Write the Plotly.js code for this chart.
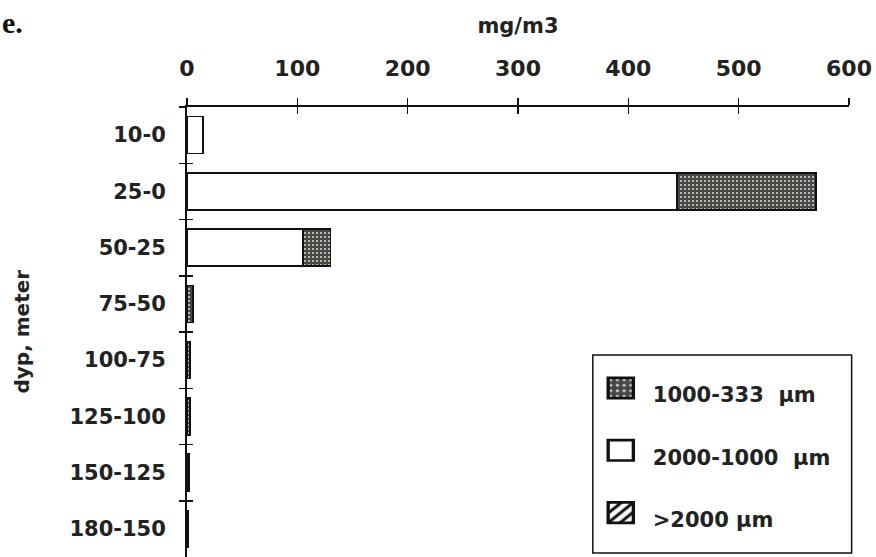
<!DOCTYPE html>
<html>
<head>
<meta charset="utf-8">
<script src="https://cdn.plot.ly/plotly-3.0.1.min.js"></script>
<style>
html,body{margin:0;padding:0;background:#fff;}
#chart{width:876px;height:557px;}
#chart .legend .legendpoints path{transform:translate(22px,-6px) scale(2.1,1.7);}
</style>
</head>
<body>
<div id="chart"></div>
<script>
// depth intervals (meter)
const depthLabels = ['10-0','25-0','50-25','75-50','100-75','125-100','150-125','180-150'];
// mg/m3 per size fraction
const size2000to1000 = [14.5, 444, 105, 0, 0, 0, 0, 0];
const size1000to333  = [0, 126, 25, 5.5, 2.5, 2.5, 2, 1];
const sizeOver2000   = [0, 0, 0, 0, 0, 0, 0, 0];
const xTicks = [0, 100, 200, 300, 400, 500, 600];

const FONT = 'DejaVu Sans, Verdana, sans-serif';
const lineStyle = {color: '#111', width: 1.6};

const traces = [
  {
    type: 'bar', orientation: 'h', name: '2000-1000\u00a0 µm',
    y: depthLabels, x: size2000to1000,
    marker: {color: '#ffffff', line: lineStyle},
    width: 0.66, legendrank: 2, legendgroup: 'b'
  },
  {
    type: 'bar', orientation: 'h', name: '1000-333\u00a0 µm',
    y: depthLabels, x: size1000to333,
    marker: {color: '#454845', line: lineStyle,
      pattern: {shape: '.', fillmode: 'replace', bgcolor: '#454845', fgcolor: '#cfd3cb', size: 4, solidity: 0.22}},
    width: 0.66, legendrank: 1, legendgroup: 'a'
  },
  {
    type: 'bar', orientation: 'h', name: '>2000 µm',
    y: depthLabels, x: sizeOver2000,
    marker: {color: '#ffffff', line: lineStyle,
      pattern: {shape: '/', fillmode: 'replace', bgcolor: '#ffffff', fgcolor: '#111', size: 5, solidity: 0.4}},
    width: 0.66, legendrank: 3, legendgroup: 'c'
  },
  { // helper for crossing tick marks (inside half)
    type: 'scatter', mode: 'markers', x: [null], y: depthLabels.slice(0,1),
    xaxis: 'x2', yaxis: 'y2', showlegend: false, hoverinfo: 'skip',
    marker: {opacity: 0}
  }
];

const layout = {
  width: 876, height: 557,
  margin: {l: 187, r: 27, t: 107, b: 0, pad: 0},
  paper_bgcolor: '#fff', plot_bgcolor: '#fff',
  barmode: 'stack',
  showlegend: true,
  font: {family: FONT, color: '#111', size: 21},
  xaxis: {
    range: [0, 600], side: 'top', tickvals: xTicks, ticktext: xTicks.map(String),
    ticks: 'outside', ticklen: 7, tickwidth: 1.5, tickcolor: '#111',
    showline: true, linewidth: 2, linecolor: '#111', mirror: false,
    showgrid: false, zeroline: false, fixedrange: true,
    tickfont: {family: FONT, size: 22, weight: 'bold', color: '#222'},
    ticklabelstandoff: 13,
    title: {text: 'mg/m3', font: {family: FONT, size: 21, weight: 'bold', color: '#222'}, standoff: 17}
  },
  yaxis: {
    type: 'category', categoryorder: 'array', categoryarray: depthLabels,
    range: [7.5, -0.5], autorange: false,
    ticks: 'outside', tickson: 'boundaries', ticklen: 6, tickwidth: 1.5, tickcolor: '#111',
    showline: true, linewidth: 2, linecolor: '#111',
    showgrid: false, zeroline: false, fixedrange: true,
    tickfont: {family: FONT, size: 21, weight: 'bold', color: '#222'},
    ticklabelstandoff: 15
  },
  xaxis2: {
    overlaying: 'x', anchor: 'y2', side: 'top', range: [0, 600], tickvals: xTicks,
    ticks: 'inside', ticklen: 7, tickwidth: 1.5, tickcolor: '#111',
    showticklabels: false, showline: false, showgrid: false, zeroline: false, fixedrange: true
  },
  yaxis2: {
    overlaying: 'y', anchor: 'x2', side: 'left', type: 'category', categoryorder: 'array',
    categoryarray: depthLabels, range: [7.5, -0.5], autorange: false,
    ticks: 'inside', tickson: 'boundaries', ticklen: 6, tickwidth: 1.5, tickcolor: '#111',
    showticklabels: false, showline: false, showgrid: false, zeroline: false, fixedrange: true
  },
  legend: {
    x: 0.622, y: 0.407, xanchor: 'left', yanchor: 'top',
    bgcolor: 'rgba(0,0,0,0)', borderwidth: 0,
    font: {family: FONT, size: 21, weight: 'bold', color: '#222'},
    traceorder: 'grouped', tracegroupgap: 32, itemwidth: 44
  },
  shapes: [
    {type: 'rect', xref: 'paper', yref: 'paper', x0: 0.613, x1: 1.004, y0: 0.009, y1: 0.449,
     line: {color: '#111', width: 1.5}, fillcolor: 'rgba(0,0,0,0)', layer: 'below'}
  ],
  annotations: [
    {text: 'dyp, meter', textangle: -90, xref: 'paper', yref: 'paper',
     x: -0.25, y: 0.50, xanchor: 'center', yanchor: 'middle', showarrow: false,
     font: {family: FONT, size: 20, weight: 'bold', color: '#222'}},
    {text: 'e.', xref: 'paper', yref: 'paper', x: -0.282, y: 1.228,
     xanchor: 'left', yanchor: 'top', showarrow: false,
     font: {family: 'Liberation Serif, Times New Roman, serif', size: 30, weight: 'bold', color: '#111'}}
  ]
};

Plotly.newPlot('chart', traces, layout, {displayModeBar: false, staticPlot: true});
</script>
</body>
</html>
